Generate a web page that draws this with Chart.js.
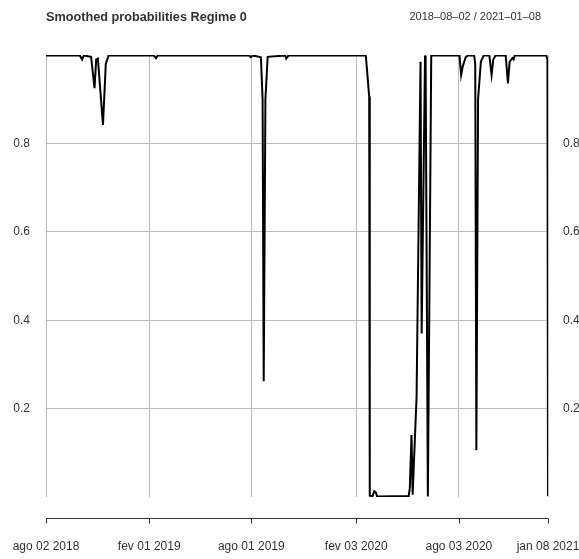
<!DOCTYPE html>
<html>
<head>
<meta charset="utf-8">
<script src="https://cdn.jsdelivr.net/npm/chart.js@4.4.1/dist/chart.umd.min.js"></script>
<style>
  html, body { margin: 0; padding: 0; background: #fff; }
  #chart { display: block; }
</style>
</head>
<body>
<canvas id="chart" width="579" height="559"></canvas>
<script>
const chartTitle = 'Smoothed probabilities Regime 0';
const rangeLabel = '2018\u201308\u201302 / 2021\u201301\u201308';
const startDate = '2018-08-02';
const endDate = '2021-01-08';

const dates = [
  '2018-08-02', '2018-10-01', '2018-10-05', '2018-10-08', '2018-10-21', '2018-10-27',
  '2018-10-30', '2018-11-02', '2018-11-11', '2018-11-16', '2018-11-21', '2019-02-09',
  '2019-02-13', '2019-02-16', '2019-07-28', '2019-07-31', '2019-08-04', '2019-08-18',
  '2019-08-21', '2019-08-23', '2019-08-26', '2019-08-30', '2019-09-30', '2019-10-02',
  '2019-10-06', '2020-02-20', '2020-02-26', '2020-02-27', '2020-03-03', '2020-03-06',
  '2020-03-09', '2020-03-11', '2020-05-06', '2020-05-08', '2020-05-11', '2020-05-13',
  '2020-05-20', '2020-05-27', '2020-05-29', '2020-06-04', '2020-06-05', '2020-06-09',
  '2020-06-15', '2020-08-04', '2020-08-07', '2020-08-10', '2020-08-15', '2020-08-19',
  '2020-08-30', '2020-09-01', '2020-09-03', '2020-09-06', '2020-09-11', '2020-09-16',
  '2020-09-26', '2020-09-30', '2020-10-03', '2020-10-07', '2020-10-25', '2020-10-29',
  '2020-11-01', '2020-11-06', '2020-11-08', '2020-11-10', '2021-01-05', '2021-01-07',
  '2021-01-08'
];
const probs = [
  0.999, 0.999, 0.990, 0.999, 0.996, 0.925,
  0.990, 0.992, 0.842, 0.980, 0.999, 0.999,
  0.993, 0.999, 0.999, 0.995, 0.999, 0.995,
  0.900, 0.262, 0.900, 0.996, 0.999, 0.992,
  0.999, 0.999, 0.906, 0.003, 0.002, 0.013,
  0.010, 0.001, 0.002, 0.020, 0.140, 0.005,
  0.227, 0.985, 0.370, 0.999, 0.990, 0.001,
  0.999, 0.999, 0.955, 0.975, 0.995, 0.999,
  0.999, 0.980, 0.106, 0.900, 0.985, 0.999,
  0.999, 0.955, 0.990, 0.999, 0.999, 0.936,
  0.985, 0.993, 0.990, 0.999, 0.999, 0.990,
  0.002
];

const tickDates = ['2018-08-02', '2019-02-01', '2019-08-01', '2020-02-03', '2020-08-03', '2021-01-08'];
const tickLabels = ['ago 02 2018', 'fev 01 2019', 'ago 01 2019', 'fev 03 2020', 'ago 03 2020', 'jan 08 2021'];
const yTicks = [0.2, 0.4, 0.6, 0.8];

function dayOf(d) {
  return (Date.parse(d) - Date.parse(startDate)) / 86400000;
}

const points = dates.map((d, i) => ({ x: dayOf(d), y: probs[i] }));
const tickDays = tickDates.map(dayOf);

const FONT = "'Liberation Sans', Arial, Helvetica, sans-serif";
const TEXT = '#333';
const GRID = '#bdbdbd';

// date range text on the right of the header
const rangePlugin = {
  id: 'rangeText',
  afterDraw(chart) {
    const ctx = chart.ctx;
    ctx.save();
    ctx.font = '11px ' + FONT;
    ctx.fillStyle = TEXT;
    ctx.textAlign = 'right';
    ctx.textBaseline = 'middle';
    ctx.fillText(rangeLabel, 541, 17);
    ctx.restore();
  }
};

// xts style detached time axis below the panel
const timeAxisPlugin = {
  id: 'timeAxis',
  afterDraw(chart) {
    const xs = chart.scales.x;
    const ctx = chart.ctx;
    const y = Math.round(chart.chartArea.bottom + 21) + 0.5;
    ctx.save();
    ctx.strokeStyle = '#333';
    ctx.lineWidth = 1;
    ctx.beginPath();
    ctx.moveTo(xs.getPixelForValue(tickDays[0]), y);
    ctx.lineTo(xs.getPixelForValue(tickDays[tickDays.length - 1]), y);
    tickDays.forEach(v => {
      const px = Math.round(xs.getPixelForValue(v)) + 0.5;
      ctx.moveTo(px, y);
      ctx.lineTo(px, y + 5);
    });
    ctx.stroke();
    ctx.restore();
  }
};

const noPad = s => { s.paddingLeft = 0; s.paddingRight = 0; s.paddingTop = 0; s.paddingBottom = 0; };

new Chart(document.getElementById('chart').getContext('2d'), {
  type: 'line',
  data: {
    datasets: [{
      data: points,
      borderColor: '#000',
      borderWidth: 2,
      pointRadius: 0,
      tension: 0,
      fill: false
    }]
  },
  options: {
    responsive: false,
    animation: false,
    devicePixelRatio: 1,
    layout: { padding: 0 },
    plugins: {
      legend: { display: false },
      tooltip: { enabled: false },
      title: {
        display: true,
        text: chartTitle,
        align: 'start',
        fullSize: false,
        color: TEXT,
        font: { family: FONT, size: 12.7, weight: 'bold' },
        padding: { top: 9.4, bottom: 30.4 }
      }
    },
    scales: {
      x: {
        type: 'linear',
        min: 0,
        max: dayOf(endDate),
        afterBuildTicks: s => { s.ticks = tickDays.map(v => ({ value: v })); },
        afterFit: s => { s.height = 62; noPad(s); },
        grid: { color: GRID, lineWidth: 1, drawTicks: false },
        border: { display: false },
        ticks: {
          padding: 42,
          maxRotation: 0,
          autoSkip: false,
          color: TEXT,
          font: { family: FONT, size: 12 },
          callback: v => tickLabels[tickDays.indexOf(v)]
        }
      },
      y: {
        position: 'left',
        min: 0,
        max: 1,
        afterBuildTicks: s => { s.ticks = yTicks.map(v => ({ value: v })); },
        afterFit: s => { s.width = 46; noPad(s); },
        grid: { color: GRID, lineWidth: 1, drawTicks: false },
        border: { display: false },
        ticks: {
          padding: 16,
          color: TEXT,
          font: { family: FONT, size: 12 },
          callback: v => v.toFixed(1)
        }
      },
      y2: {
        position: 'right',
        min: 0,
        max: 1,
        afterBuildTicks: s => { s.ticks = yTicks.map(v => ({ value: v })); },
        afterFit: s => { s.width = 31; noPad(s); },
        grid: { display: false, drawTicks: false },
        border: { display: false },
        ticks: {
          padding: 15,
          color: TEXT,
          font: { family: FONT, size: 12 },
          callback: v => v.toFixed(1)
        }
      }
    }
  },
  plugins: [rangePlugin, timeAxisPlugin]
});
</script>
</body>
</html>
